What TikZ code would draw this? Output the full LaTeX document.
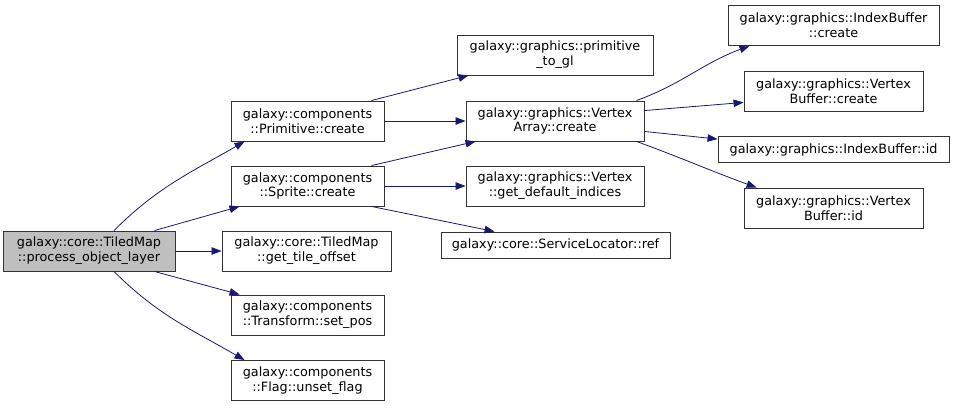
\documentclass[tikz,border=0pt]{standalone}
\usepackage{fontspec}
\setmainfont{DejaVu Sans}
\usetikzlibrary{arrows.meta}
\definecolor{edgeblue}{HTML}{191970}
\definecolor{boxline}{HTML}{333333}
\definecolor{rootfill}{HTML}{BFBFBF}

\begin{document}
\begin{tikzpicture}[x=1pt, y=1pt,
  fn/.style={draw=boxline, fill=white, line width=0.9pt, minimum height=40pt, inner sep=0pt, align=center, font=\fontsize{12.8}{14.8}\selectfont},
  fnone/.style={fn, minimum height=26pt},
  cur/.style={fn, fill=rootfill},
  arr/.style={-{Triangle[length=10pt, width=7.5pt]}, line width=0.8pt, color=edgeblue},
]
  \useasboundingbox (0,0) rectangle (955,-408);

  \node[cur, minimum width=172pt] (tiled) at (89,-251) {galaxy::core::TiledMap\\::process\_object\_layer};

  \node[fn, minimum width=153pt] (prim) at (307.5,-121) {galaxy::components\\::Primitive::create};
  \node[fn, minimum width=153pt] (sprite) at (307.5,-186) {galaxy::components\\::Sprite::create};
  \node[fn, minimum width=169pt] (offset) at (306.5,-251) {galaxy::core::TiledMap\\::get\_tile\_offset};
  \node[fn, minimum width=153pt] (setpos) at (307.5,-315) {galaxy::components\\::Transform::set\_pos};
  \node[fn, minimum width=153pt] (flag) at (307.5,-380.5) {galaxy::components\\::Flag::unset\_flag};

  \node[fn, minimum width=196pt] (togl) at (555,-55) {galaxy::graphics::primitive\\\_to\_gl};
  \node[fn, minimum width=178pt] (varray) at (555,-121) {galaxy::graphics::Vertex\\Array::create};
  \node[fn, minimum width=178pt] (indices) at (555,-186) {galaxy::graphics::Vertex\\::get\_default\_indices};
  \node[fnone, minimum width=229pt] (locref) at (555.5,-245) {galaxy::core::ServiceLocator::ref};

  \node[fn, minimum width=211pt] (ibcreate) at (833.5,-25.5) {galaxy::graphics::IndexBuffer\\::create};
  \node[fn, minimum width=179pt] (vbcreate) at (833.5,-91) {galaxy::graphics::Vertex\\Buffer::create};
  \node[fnone, minimum width=231pt] (ibid) at (833.5,-149.5) {galaxy::graphics::IndexBuffer::id};
  \node[fn, minimum width=179pt] (vbid) at (833.5,-208) {galaxy::graphics::Vertex\\Buffer::id};

  \draw[arr] ([xshift=25pt]tiled.north) to[out=45, in=-150] ([xshift=14pt]prim.south west);
  \draw[arr] ([xshift=-21pt]tiled.north east) -- ([xshift=9pt]sprite.south west);
  \draw[arr] (tiled.east) -- (offset.west);
  \draw[arr] ([xshift=-21pt]tiled.south east) -- ([xshift=9pt]setpos.north west);
  \draw[arr] ([xshift=25pt]tiled.south) to[out=-45, in=150] ([xshift=14pt]flag.north west);

  \draw[arr] ([xshift=-13pt]prim.north east) -- ([xshift=12pt]togl.south west);
  \draw[arr] (prim.east) -- (varray.west);
  \draw[arr] ([xshift=-13pt]sprite.north east) -- ([xshift=10pt]varray.south west);
  \draw[arr] (sprite.east) -- (indices.west);
  \draw[arr] ([xshift=-13pt]sprite.south east) -- ([xshift=54pt]locref.north west);

  \draw[arr] ([xshift=-8pt]varray.north east) to[out=20, in=-160] ([xshift=22pt]ibcreate.south west);
  \draw[arr] ([yshift=-10pt]varray.north east) -- ([yshift=9pt]vbcreate.south west);
  \draw[arr] ([yshift=10pt]varray.south east) -- ([yshift=-3pt]ibid.north west);
  \draw[arr] ([xshift=-8pt]varray.south east) to[out=-20, in=160] ([xshift=13pt]vbid.north west);
\end{tikzpicture}
\end{document}
